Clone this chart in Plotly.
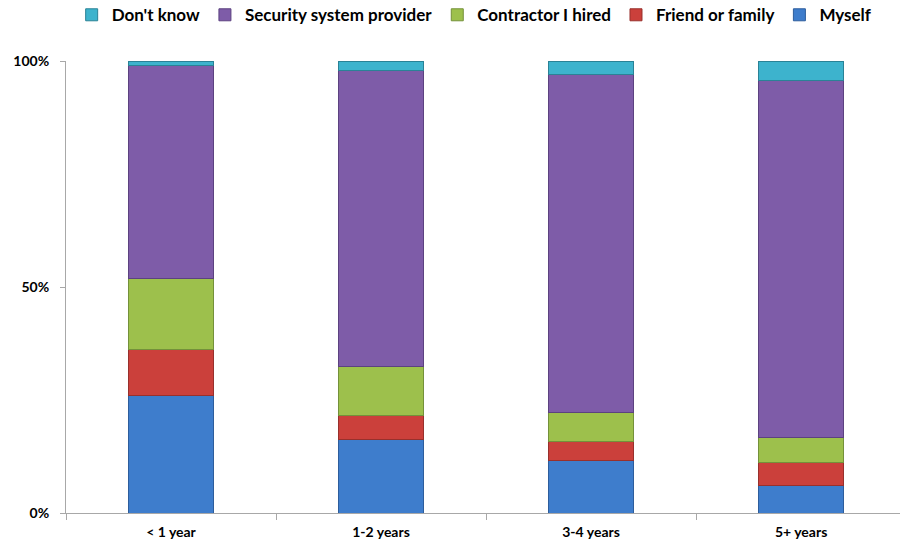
import plotly.graph_objects as go

categories = ["< 1 year", "1-2 years", "3-4 years", "5+ years"]
myself = [25.9, 16.2, 11.7, 6.0]
friend = [10.2, 5.3, 4.2, 5.1]
contractor = [15.7, 11.0, 6.4, 5.5]
security = [47.3, 65.3, 74.8, 79.0]
dont_know = [0.9, 2.2, 2.9, 4.4]

series = [
    ("Myself", myself, "#3E7DCC", "#2D5D9C"),
    ("Friend or family", friend, "#CB403B", "#98302C"),
    ("Contractor I hired", contractor, "#9DC04C", "#74913A"),
    ("Security system provider", security, "#7E5CA8", "#5C4280"),
    ("Don't know", dont_know, "#3DB3CD", "#2A8296"),
]

fig = go.Figure()
for name, vals, col, line in series:
    fig.add_trace(go.Bar(
        x=categories, y=vals, name=name,
        marker=dict(color=col, line=dict(color=line, width=1)),
        width=0.405,
    ))

font_family = "Lato, 'Open Sans', Arial, sans-serif"
fig.update_layout(
    barmode="stack",
    width=900, height=544,
    margin=dict(l=66, r=0, t=61, b=31),
    paper_bgcolor="white", plot_bgcolor="white",
    font=dict(family=font_family, color="black"),
    showlegend=True,
    legend=dict(
        orientation="h", traceorder="reversed",
        x=0.49, xanchor="center", y=0.972, yanchor="middle", yref="container",
        font=dict(size=17, family=font_family, weight="bold"),
        itemwidth=30,
    ),
    xaxis=dict(
        range=[-0.5, 3.471],
        showline=True, linecolor="#A8A8A8", linewidth=1,
        ticks="outside", tickson="boundaries", ticklen=6, tickcolor="#A8A8A8",
        tickfont=dict(size=14, weight="bold"),
        ticklabelstandoff=6,
        showgrid=False,
    ),
    yaxis=dict(
        range=[0, 100], tickvals=[0, 50, 100], ticktext=["0%", "50%", "100%"],
        showline=True, linecolor="#A8A8A8", linewidth=1,
        ticks="outside", ticklen=5, tickcolor="#A8A8A8",
        tickfont=dict(size=14, weight="bold"),
        ticklabelstandoff=8,
        showgrid=False, zeroline=False,
    ),
)

fig.write_html("out.html")
